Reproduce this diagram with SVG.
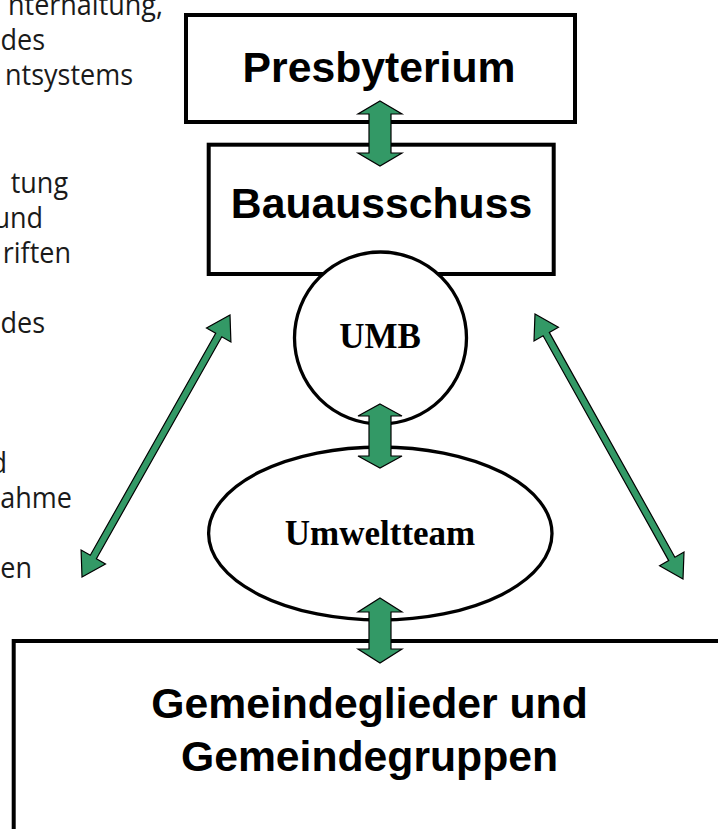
<svg xmlns="http://www.w3.org/2000/svg" width="718" height="829" viewBox="0 0 718 829">
<style>
.box{fill:#fff;stroke:#000;stroke-width:4}
.oval{fill:#fff;stroke:#000;stroke-width:3.3}
.arr{fill:#339966;stroke:#000;stroke-width:1.2;stroke-linejoin:miter}
.ta{font-family:"Liberation Sans",Arial,sans-serif;font-weight:bold;font-size:42.7px;fill:#000;text-anchor:middle}
.tt{font-family:"Liberation Serif","Times New Roman",serif;font-weight:bold;font-size:35px;fill:#000;text-anchor:middle}
.side{font-family:"Open Sans","DejaVu Sans",sans-serif;font-weight:400;font-size:30px;fill:#1a1a1a;text-anchor:end}
</style>
<rect width="718" height="829" fill="#fff"/>
<g id="side-text" transform="scale(0.9 1)">
<text class="side" x="181.1" y="15">nterhaltung,</text>
<text class="side" x="50" y="50">des</text>
<text class="side" x="147.8" y="85">ntsystems</text>
<text class="side" x="75.6" y="193">tung</text>
<text class="side" x="47.8" y="228">und</text>
<text class="side" x="78.9" y="263">riften</text>
<text class="side" x="50" y="333">des</text>
<text class="side" x="7.8" y="473">d</text>
<text class="side" x="80" y="508">ahme</text>
<text class="side" x="35.6" y="578">en</text>
</g>
<g id="presbyterium">
<rect class="box" x="186" y="15" width="389" height="107"/>
<text class="ta" x="379" y="82">Presbyterium</text>
</g>
<g id="bauausschuss">
<rect class="box" x="208.7" y="144.7" width="345" height="129.3"/>
<text class="ta" x="381.5" y="218">Bauausschuss</text>
</g>
<g id="umb">
<circle class="oval" cx="380.5" cy="338" r="86"/>
<text class="tt" x="380" y="348">UMB</text>
</g>
<g id="umweltteam">
<ellipse class="oval" cx="380.3" cy="533.5" rx="171.7" ry="86.5"/>
<text class="tt" x="380" y="545">Umweltteam</text>
</g>
<g id="gemeinde">
<rect class="box" x="13.7" y="641" width="720" height="300"/>
<text class="ta" x="369.5" y="718">Gemeindeglieder und</text>
<text class="ta" x="369.5" y="771">Gemeindegruppen</text>
</g>
<g id="connectors">
<polygon class="arr" points="380,101 402,114 391,114 391,153 402,153 380,166 358,153 369,153 369,114 358,114"/>
<polygon class="arr" points="380,404 402,416 391,416 391,456 402,456 380,468 358,456 369,456 369,416 358,416"/>
<polygon class="arr" points="380,598 402,612 391,612 391,649 402,649 380,663 358,649 369,649 369,612 358,612"/>
<polygon class="arr" points="230,315 230.9,341.9 221.8,336.7 96.4,558.7 105.5,563.9 82,577 81.1,550.1 90.3,555.3 215.7,333.3 206.5,328.1"/>
<polygon class="arr" points="535,314 558.4,327.3 549.3,332.4 674.9,557.2 684,552.1 683,579 659.6,565.7 668.7,560.6 543.1,335.8 534,340.9"/>
</g>
</svg>
